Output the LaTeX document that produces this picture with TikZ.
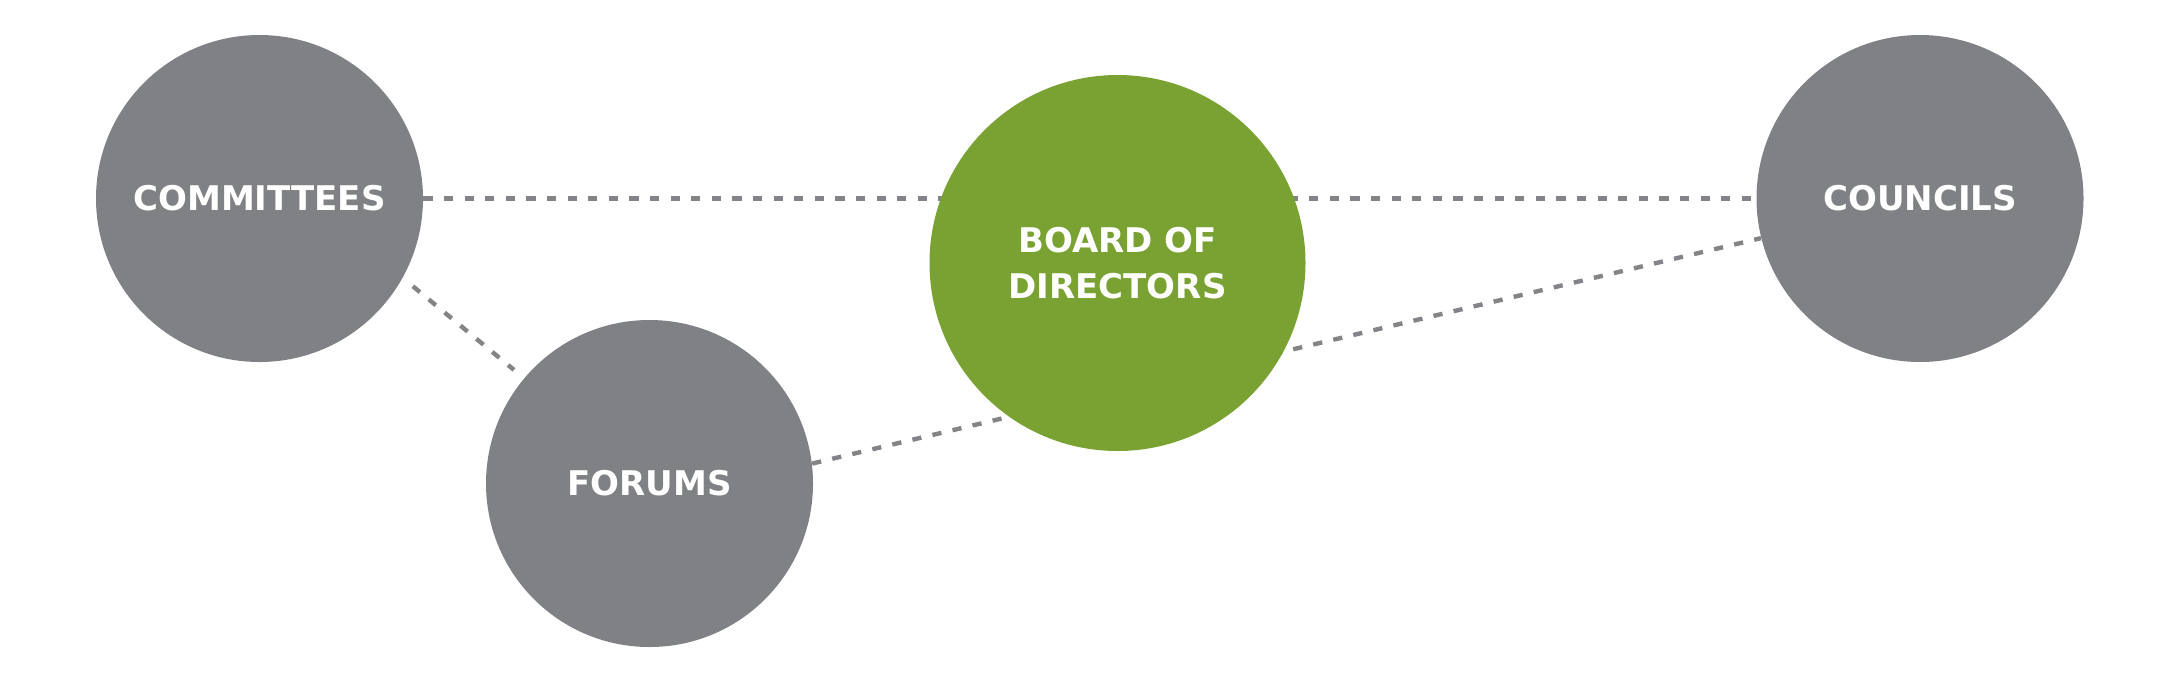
\documentclass[tikz,border=0pt]{standalone}
\usepackage{fontspec}
\setmainfont{DejaVu Sans}
\usetikzlibrary{backgrounds}
\definecolor{circgrey}{RGB}{128,129,133}
\definecolor{boardgreen}{RGB}{122,162,50}
\definecolor{linegrey}{RGB}{132,132,136}
\begin{document}
\begin{tikzpicture}[x=0.5pt,y=-0.5pt,
  org/.style={circle, fill=circgrey, minimum size=163.5pt, inner sep=0pt,
    text=white, font=\bfseries\fontsize{17}{23}\selectfont, align=center},
  boardstyle/.style={org, fill=boardgreen, minimum size=188pt},
  link/.style={draw=linegrey, line width=2.2pt, dash pattern=on 4.6pt off 5.7pt}]
\useasboundingbox (0,0) rectangle (2172,698);
\node[org] (comm) at (259.5,198.5) {COMMITTEES};
\node[org] (forums) at (649.5,483.5) {FORUMS};
\node[boardstyle] (board) at (1117.5,263) {BOARD OF\\DIRECTORS};
\node[org] (counc) at (1920,198.5) {COUNCILS};
\begin{scope}[on background layer]
  \draw[link] (comm.east) -- (counc.west);
  \draw[link] (forums.7.5) -- (counc.194.5);
\end{scope}
\draw[link, shorten <=6.5pt, shorten >=6.5pt] (comm.-29) -- (forums.140.8);
\end{tikzpicture}
\end{document}
